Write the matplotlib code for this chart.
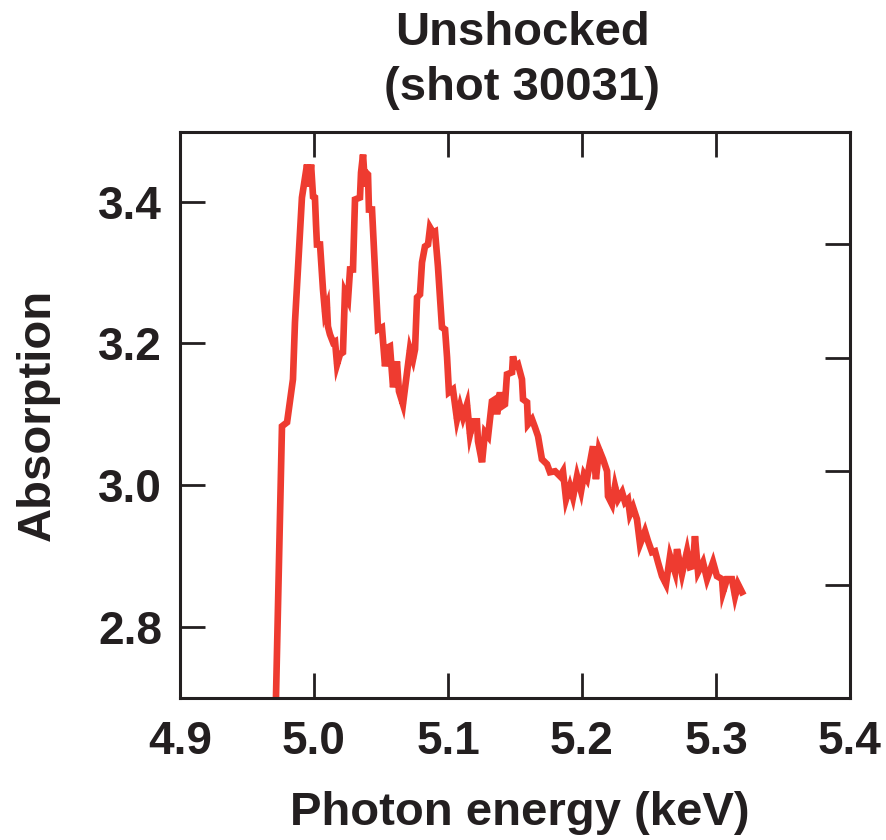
import matplotlib
matplotlib.use("Agg")
import matplotlib.pyplot as plt
from matplotlib import font_manager

energy = [4.9716, 4.9761, 4.9799, 4.9843, 4.9858, 4.9910, 4.9948, 4.9963, 4.9978, 4.9993,
          5.0007, 5.0015, 5.0022, 5.0045, 5.0067, 5.0082, 5.0097, 5.0104, 5.0119, 5.0142,
          5.0157, 5.0172, 5.0194, 5.0216, 5.0231, 5.0254, 5.0269, 5.0291, 5.0306, 5.0343,
          5.0351, 5.0366, 5.0381, 5.0388, 5.0403, 5.0410, 5.0433, 5.0455, 5.0478, 5.0507,
          5.0530, 5.0552, 5.0567, 5.0590, 5.0619, 5.0634, 5.0664, 5.0694, 5.0716, 5.0739,
          5.0754, 5.0769, 5.0791, 5.0806, 5.0828, 5.0851, 5.0866, 5.0888, 5.0903, 5.0925,
          5.0955, 5.0978, 5.0993, 5.1007, 5.1037, 5.1052, 5.1067, 5.1090, 5.1112, 5.1142,
          5.1164, 5.1187, 5.1216, 5.1224, 5.1254, 5.1276, 5.1299, 5.1328, 5.1351, 5.1366,
          5.1388, 5.1403, 5.1425, 5.1440, 5.1478, 5.1485, 5.1500, 5.1522, 5.1552, 5.1560,
          5.1590, 5.1597, 5.1627, 5.1649, 5.1672, 5.1701, 5.1739, 5.1761, 5.1799, 5.1836,
          5.1858, 5.1881, 5.1910, 5.1933, 5.1963, 5.1993, 5.2015, 5.2037, 5.2060, 5.2082,
          5.2104, 5.2127, 5.2157, 5.2187, 5.2194, 5.2224, 5.2246, 5.2269, 5.2299, 5.2321,
          5.2343, 5.2358, 5.2381, 5.2410, 5.2433, 5.2470, 5.2493, 5.2522, 5.2545, 5.2567,
          5.2597, 5.2627, 5.2657, 5.2694, 5.2709, 5.2746, 5.2784, 5.2806, 5.2828, 5.2843,
          5.2866, 5.2903, 5.2933, 5.2978, 5.3007, 5.3045, 5.3052, 5.3082, 5.3119, 5.3142,
          5.3164, 5.3194]

absorption = [2.6986, 3.0831, 3.0887, 3.1493, 3.2296, 3.4056, 3.4521, 3.4211, 3.4521, 3.4070,
              3.4056, 3.3676, 3.3394, 3.3394, 3.2761, 3.2437, 3.2521, 3.2239, 3.2127, 3.2014,
              3.2028, 3.1704, 3.1845, 3.1873, 3.2718, 3.2620, 3.3042, 3.3042, 3.4028, 3.4056,
              3.4408, 3.4662, 3.4211, 3.4408, 3.4380, 3.3887, 3.3887, 3.3042, 3.2197, 3.2225,
              3.1676, 3.1944, 3.1958, 3.1380, 3.1746, 3.1324, 3.1141, 3.1592, 3.1915, 3.1775,
              3.1915, 3.2648, 3.2690, 3.3141, 3.3366, 3.3394, 3.3634, 3.3563, 3.3577, 3.3085,
              3.2225, 3.2197, 3.1803, 3.1310, 3.1352, 3.1141, 3.0930, 3.1113, 3.0958, 3.1141,
              3.0718, 3.0901, 3.0901, 3.0620, 3.0324, 3.0746, 3.0690, 3.1183, 3.1211, 3.1000,
              3.1310, 3.1113, 3.1141, 3.1563, 3.1592, 3.1817, 3.1676, 3.1704, 3.1493, 3.1211,
              3.1169, 3.0859, 3.0930, 3.0817, 3.0690, 3.0366, 3.0296, 3.0183, 3.0197, 3.0127,
              3.0197, 2.9803, 2.9986, 2.9831, 3.0127, 2.9915, 3.0155, 3.0085, 3.0324, 3.0549,
              3.0085, 3.0507, 3.0366, 3.0197, 2.9845, 2.9732, 2.9986, 2.9803, 2.9901, 2.9761,
              2.9803, 2.9592, 2.9690, 2.9521, 2.9169, 2.9352, 2.9211, 2.9056, 2.9070, 2.8915,
              2.8718, 2.8606, 2.9000, 2.8775, 2.9099, 2.8746, 2.9070, 2.8845, 2.8859, 2.9282,
              2.8775, 2.8915, 2.8676, 2.8915, 2.8718, 2.8676, 2.8493, 2.8676, 2.8676, 2.8437,
              2.8606, 2.8493]

xticks = [4.9, 5.0, 5.1, 5.2, 5.3, 5.4]
xticklabels = ["4.9", "5.0", "5.1", "5.2", "5.3", "5.4"]
yticks = [2.8, 3.0, 3.2, 3.4]
yticklabels = ["2.8", "3.0", "3.2", "3.4"]
right_ticks = [2.8592, 3.0197, 3.1789, 3.3394]

names = {f.name for f in font_manager.fontManager.ttflist}
fam = [n for n in ["Liberation Sans Narrow", "Liberation Sans", "DejaVu Sans"] if n in names]
plt.rcParams['font.family'] = fam
plt.rcParams['font.weight'] = 'bold'

W, H = 886, 840
fig = plt.figure(figsize=(W / 100, H / 100), dpi=100)
ax = fig.add_axes([180 / W, 1 - 698 / H, 670 / W, 566 / H])

ax.plot(energy, absorption, color="#EE3B30", lw=4.8, solid_joinstyle="miter")
ax.set_xlim(4.9, 5.4)
ax.set_ylim(2.70, 3.498)

ink = "#231F20"
for s in ax.spines.values():
    s.set_linewidth(2.2)
    s.set_color(ink)

ax.set_xticks(xticks)
ax.set_xticklabels(xticklabels)
ax.set_yticks(yticks)
ax.set_yticklabels(yticklabels)
ax.tick_params(axis="both", direction="in", length=18, width=2.0, color=ink,
               labelsize=33, labelcolor=ink)
ax.tick_params(axis="x", pad=16, top=True)
ax.tick_params(axis="y", pad=13)
for lab in ax.get_xticklabels() + ax.get_yticklabels():
    lab.set_fontweight("bold")

ax2 = ax.twinx()
ax2.set_ylim(ax.get_ylim())
ax2.set_yticks(right_ticks)
ax2.set_yticklabels([])
ax2.tick_params(axis="y", direction="in", length=18, width=2.0, color=ink)
for s in ax2.spines.values():
    s.set_visible(False)

fig.text(522 / W, 1 - 33 / H, "Unshocked", ha="center", va="center",
         fontsize=34, fontweight="bold", color=ink)
fig.text(522 / W, 1 - 88 / H, "(shot 30031)", ha="center", va="center",
         fontsize=34, fontweight="bold", color=ink)
fig.text(520 / W, 1 - 813 / H, "Photon energy (keV)", ha="center", va="center",
         fontsize=34, fontweight="bold", color=ink)
fig.text(38 / W, 1 - 415 / H, "Absorption", ha="center", va="center",
         rotation=90, fontsize=34, fontweight="bold", color=ink)

fig.savefig("out.png", dpi=100)
